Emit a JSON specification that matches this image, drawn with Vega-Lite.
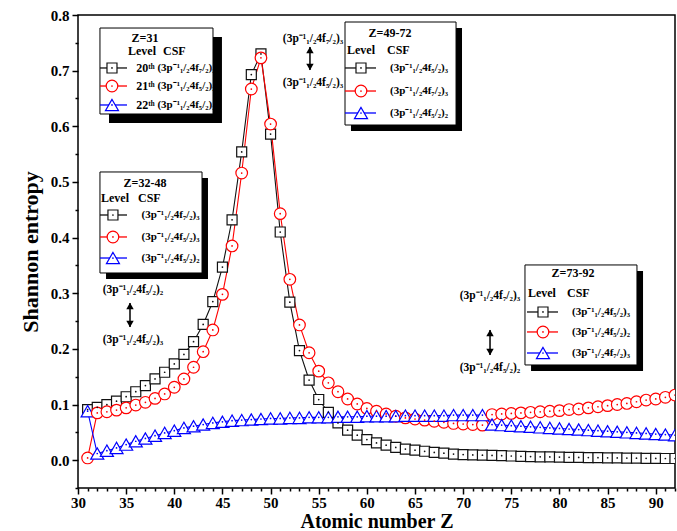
{
  "$schema": "https://vega.github.io/schema/vega-lite/v6.json",
  "width": 597,
  "height": 473,
  "autosize": {"type": "none"},
  "padding": {"left": 78, "top": 15, "right": 2, "bottom": 43},
  "background": "white",
  "config": {
    "view": {"stroke": "black", "strokeWidth": 1.5},
    "font": "Liberation Serif",
    "axis": {"grid": false, "domain": false, "tickColor": "black", "tickWidth": 1.5, "labelColor": "black", "titleColor": "black", "labelFont": "Liberation Serif", "titleFont": "Liberation Serif", "labelFontWeight": "bold", "titleFontWeight": "bold", "labelFontSize": 15, "titleFontSize": 22}
  },
  "datasets": {
    "main": [
      {"Z":31,"A":0.091,"B":0.004,"C":0.088},
      {"Z":32,"A":0.095,"B":0.085,"C":0.012},
      {"Z":33,"A":0.100,"B":0.087,"C":0.017},
      {"Z":34,"A":0.106,"B":0.090,"C":0.022},
      {"Z":35,"A":0.114,"B":0.094,"C":0.028},
      {"Z":36,"A":0.123,"B":0.099,"C":0.034},
      {"Z":37,"A":0.134,"B":0.104,"C":0.039},
      {"Z":38,"A":0.146,"B":0.111,"C":0.044},
      {"Z":39,"A":0.158,"B":0.119,"C":0.049},
      {"Z":40,"A":0.173,"B":0.131,"C":0.053},
      {"Z":41,"A":0.190,"B":0.146,"C":0.058},
      {"Z":42,"A":0.213,"B":0.167,"C":0.061},
      {"Z":43,"A":0.244,"B":0.195,"C":0.064},
      {"Z":44,"A":0.285,"B":0.234,"C":0.067},
      {"Z":45,"A":0.347,"B":0.298,"C":0.069},
      {"Z":46,"A":0.432,"B":0.385,"C":0.071},
      {"Z":47,"A":0.554,"B":0.516,"C":0.072},
      {"Z":48,"A":0.693,"B":0.667,"C":0.073},
      {"Z":49,"A":0.730,"B":0.723,"C":0.074},
      {"Z":50,"A":0.586,"B":0.604,"C":0.075},
      {"Z":51,"A":0.410,"B":0.443,"C":0.075},
      {"Z":52,"A":0.284,"B":0.325,"C":0.076},
      {"Z":53,"A":0.197,"B":0.243,"C":0.076},
      {"Z":54,"A":0.144,"B":0.193,"C":0.077},
      {"Z":55,"A":0.109,"B":0.160,"C":0.077},
      {"Z":56,"A":0.086,"B":0.139,"C":0.077},
      {"Z":57,"A":0.067,"B":0.123,"C":0.078},
      {"Z":58,"A":0.054,"B":0.110,"C":0.078},
      {"Z":59,"A":0.045,"B":0.101,"C":0.078},
      {"Z":60,"A":0.037,"B":0.093,"C":0.079},
      {"Z":61,"A":0.031,"B":0.088,"C":0.079},
      {"Z":62,"A":0.027,"B":0.083,"C":0.079},
      {"Z":63,"A":0.023,"B":0.079,"C":0.079},
      {"Z":64,"A":0.020,"B":0.076,"C":0.080},
      {"Z":65,"A":0.018,"B":0.074,"C":0.080},
      {"Z":66,"A":0.016,"B":0.072,"C":0.080},
      {"Z":67,"A":0.014,"B":0.070,"C":0.080},
      {"Z":68,"A":0.0125,"B":0.068,"C":0.080},
      {"Z":69,"A":0.011,"B":0.066,"C":0.081},
      {"Z":70,"A":0.010,"B":0.065,"C":0.081},
      {"Z":71,"A":0.0095,"B":0.064,"C":0.081},
      {"Z":72,"A":0.009,"B":0.063,"C":0.081},
      {"Z":73,"A":0.0085,"B":0.082,"C":0.064},
      {"Z":74,"A":0.008,"B":0.083,"C":0.063},
      {"Z":75,"A":0.0075,"B":0.084,"C":0.062},
      {"Z":76,"A":0.007,"B":0.085,"C":0.061},
      {"Z":77,"A":0.0065,"B":0.086,"C":0.060},
      {"Z":78,"A":0.006,"B":0.087,"C":0.059},
      {"Z":79,"A":0.0058,"B":0.088,"C":0.058},
      {"Z":80,"A":0.0055,"B":0.089,"C":0.057},
      {"Z":81,"A":0.0052,"B":0.091,"C":0.056},
      {"Z":82,"A":0.005,"B":0.092,"C":0.055},
      {"Z":83,"A":0.0047,"B":0.094,"C":0.054},
      {"Z":84,"A":0.0045,"B":0.096,"C":0.053},
      {"Z":85,"A":0.0042,"B":0.098,"C":0.052},
      {"Z":86,"A":0.004,"B":0.100,"C":0.051},
      {"Z":87,"A":0.0038,"B":0.102,"C":0.050},
      {"Z":88,"A":0.0036,"B":0.105,"C":0.049},
      {"Z":89,"A":0.0034,"B":0.108,"C":0.048},
      {"Z":90,"A":0.0032,"B":0.110,"C":0.047},
      {"Z":91,"A":0.003,"B":0.113,"C":0.046},
      {"Z":92,"A":0.003,"B":0.117,"C":0.045}
    ],
    "shadows": [
      {"x1":33.22,"x2":44.95,"y1":0.7605,"y2":0.6059},
      {"x1":58.35,"x2":69.88,"y1":0.7766,"y2":0.5916},
      {"x1":32.91,"x2":43.50,"y1":0.5071,"y2":0.3256},
      {"x1":77.05,"x2":88.68,"y1":0.3400,"y2":0.1603}
    ],
    "boxes": [
      {"x1":32.28,"x2":44.02,"y1":0.7766,"y2":0.6221},
      {"x1":57.73,"x2":69.26,"y1":0.7874,"y2":0.6023},
      {"x1":32.28,"x2":42.88,"y1":0.5179,"y2":0.3364},
      {"x1":76.42,"x2":88.05,"y1":0.3508,"y2":0.1711}
    ],
    "titles": [
      {"x":36.96,"y":0.7587,"t":"Z=31"},
      {"x":62.40,"y":0.7677,"t":"Z=49-72"},
      {"x":36.96,"y":0.4981,"t":"Z=32-48"},
      {"x":81.41,"y":0.3364,"t":"Z=73-92"}
    ],
    "headers": [
      {"x":35.19,"y":0.7353,"t":"Level"},{"x":38.83,"y":0.7353,"t":"CSF"},
      {"x":57.94,"y":0.7371,"t":"Level"},{"x":62.09,"y":0.7371,"t":"CSF"},
      {"x":32.39,"y":0.4712,"t":"Level"},{"x":36.23,"y":0.4712,"t":"CSF"},
      {"x":76.73,"y":0.3000,"t":"Level"},{"x":80.78,"y":0.3000,"t":"CSF"},
      {"x":36.05,"y":0.7048,"t":"20ᵗʰ"},{"x":36.05,"y":0.6724,"t":"21ᵗʰ"},{"x":36.05,"y":0.6383,"t":"22ᵗʰ"}
    ],
    "csf": [
      {"x":38.25,"y":0.7048,"t":"(3p⁻¹₁/₂4f₇/₂)₃"},
      {"x":38.25,"y":0.6724,"t":"(3p⁻¹₁/₂4f₅/₂)₂"},
      {"x":38.25,"y":0.6383,"t":"(3p⁻¹₁/₂4f₅/₂)₃"},
      {"x":62.40,"y":0.7048,"t":"(3p⁻¹₁/₂4f₅/₂)₃"},
      {"x":62.40,"y":0.6634,"t":"(3p⁻¹₁/₂4f₇/₂)₃"},
      {"x":62.40,"y":0.6239,"t":"(3p⁻¹₁/₂4f₅/₂)₂"},
      {"x":36.60,"y":0.4406,"t":"(3p⁻¹₁/₂4f₇/₂)₃"},
      {"x":36.60,"y":0.4011,"t":"(3p⁻¹₁/₂4f₅/₂)₃"},
      {"x":36.60,"y":0.3633,"t":"(3p⁻¹₁/₂4f₅/₂)₂"},
      {"x":81.30,"y":0.2663,"t":"(3p⁻¹₁/₂4f₅/₂)₃"},
      {"x":81.30,"y":0.2304,"t":"(3p⁻¹₁/₂4f₅/₂)₂"},
      {"x":81.30,"y":0.1926,"t":"(3p⁻¹₁/₂4f₇/₂)₃"}
    ],
    "notes": [
      {"x":35.71,"y":0.3059,"t":"(3p⁻¹₁/₂4f₅/₂)₂"},
      {"x":35.71,"y":0.2160,"t":"(3p⁻¹₁/₂4f₅/₂)₃"},
      {"x":54.41,"y":0.7569,"t":"(3p⁻¹₁/₂4f₇/₂)₃"},
      {"x":54.41,"y":0.6778,"t":"(3p⁻¹₁/₂4f₅/₂)₃"},
      {"x":72.79,"y":0.2951,"t":"(3p⁻¹₁/₂4f₇/₂)₃"},
      {"x":72.79,"y":0.1657,"t":"(3p⁻¹₁/₂4f₅/₂)₂"}
    ],
    "keys": [
      {"x1":32.28,"x2":35.09,"xm":33.53,"y":0.7048,"series":"A"},
      {"x1":32.28,"x2":35.09,"xm":33.53,"y":0.6724,"series":"B"},
      {"x1":32.28,"x2":35.09,"xm":33.53,"y":0.6383,"series":"C"},
      {"x1":57.73,"x2":60.95,"xm":59.39,"y":0.7048,"series":"A"},
      {"x1":57.73,"x2":60.95,"xm":59.39,"y":0.6634,"series":"B"},
      {"x1":57.73,"x2":60.95,"xm":59.39,"y":0.6239,"series":"C"},
      {"x1":32.28,"x2":35.09,"xm":33.63,"y":0.4406,"series":"A"},
      {"x1":32.28,"x2":35.09,"xm":33.63,"y":0.4011,"series":"B"},
      {"x1":32.28,"x2":35.09,"xm":33.63,"y":0.3633,"series":"C"},
      {"x1":76.63,"x2":79.85,"xm":78.29,"y":0.2663,"series":"A"},
      {"x1":76.63,"x2":79.85,"xm":78.29,"y":0.2304,"series":"B"},
      {"x1":76.63,"x2":79.85,"xm":78.29,"y":0.1926,"series":"C"}
    ],
    "arrows": [
      {"x":35.40,"top":0.2825,"bot":0.2394},
      {"x":54.09,"top":0.7425,"bot":0.7012},
      {"x":72.79,"top":0.2340,"bot":0.1891}
    ]
  },
  "layer": [
    {
      "data": {"name": "main"},
      "transform": [{"fold": ["A", "B", "C"], "as": ["series", "S"]}],
      "mark": {"type": "line", "strokeWidth": 1.1, "clip": true},
      "encoding": {
        "x": {"field": "Z", "type": "quantitative", "scale": {"domain": [30, 92], "nice": false, "zero": false},
          "axis": {"orient": "bottom", "values": [30,35,40,45,50,55,60,65,70,75,80,85,90], "title": "Atomic number Z", "titleFontSize": 20, "tickSize": 6, "labelPadding": 1, "titlePadding": 1, "labelFlush": false}},
        "y": {"field": "S", "type": "quantitative", "scale": {"domain": [-0.05, 0.8], "nice": false, "zero": false},
          "axis": {"orient": "left", "values": [0,0.1,0.2,0.3,0.4,0.5,0.6,0.7,0.8], "format": ".1f", "title": "Shannon entropy", "tickSize": 6, "labelPadding": 3, "titlePadding": 8, "labelFlush": false}},
        "stroke": {"field": "series", "type": "nominal", "scale": {"domain": ["A", "B", "C"], "range": ["#111111", "#ff0000", "#0000ff"]}, "legend": null},
        "detail": {"field": "series"}
      }
    },
    {
      "data": {"name": "main"},
      "transform": [{"fold": ["A", "B", "C"], "as": ["series", "S"]}],
      "mark": {"type": "point", "fill": "white", "fillOpacity": 1, "strokeWidth": 1.2, "opacity": 1, "clip": true},
      "encoding": {
        "x": {"field": "Z", "type": "quantitative",
          "axis": {"orient": "bottom", "values": [31,32,33,34,36,37,38,39,41,42,43,44,46,47,48,49,51,52,53,54,56,57,58,59,61,62,63,64,66,67,68,69,71,72,73,74,76,77,78,79,81,82,83,84,86,87,88,89,91,92], "labels": false, "title": null, "tickSize": 3}},
        "y": {"field": "S", "type": "quantitative",
          "axis": {"orient": "left", "values": [-0.05,0.05,0.15,0.25,0.35,0.45,0.55,0.65,0.75], "labels": false, "title": null, "tickSize": 3}},
        "stroke": {"field": "series", "type": "nominal", "legend": null},
        "shape": {"field": "series", "type": "nominal", "scale": {"domain": ["A", "B", "C"], "range": ["square", "circle", "triangle-up"]}, "legend": null},
        "size": {"field": "series", "type": "nominal", "scale": {"domain": ["A", "B", "C"], "range": [100, 170, 160]}, "legend": null}
      }
    },
    {
      "data": {"name": "main"},
      "transform": [{"fold": ["A", "B", "C"], "as": ["series", "S"]}],
      "mark": {"type": "point", "filled": true, "size": 3, "opacity": 1, "clip": true},
      "encoding": {
        "x": {"field": "Z", "type": "quantitative", "axis": null},
        "y": {"field": "S", "type": "quantitative", "axis": null},
        "fill": {"field": "series", "type": "nominal", "scale": {"domain": ["A", "B", "C"], "range": ["#111111", "#ff0000", "#0000ff"]}, "legend": null}
      }
    },
    {
      "data": {"name": "shadows"},
      "mark": {"type": "rect", "fill": "black"},
      "encoding": {
        "x": {"field": "x1", "type": "quantitative", "axis": null}, "x2": {"field": "x2"},
        "y": {"field": "y1", "type": "quantitative", "axis": null}, "y2": {"field": "y2"}
      }
    },
    {
      "data": {"name": "boxes"},
      "mark": {"type": "rect", "fill": "white", "stroke": "black", "strokeWidth": 1},
      "encoding": {
        "x": {"field": "x1", "type": "quantitative", "axis": null}, "x2": {"field": "x2"},
        "y": {"field": "y1", "type": "quantitative", "axis": null}, "y2": {"field": "y2"}
      }
    },
    {
      "data": {"name": "keys"},
      "mark": {"type": "rule", "strokeWidth": 1.3},
      "encoding": {
        "x": {"field": "x1", "type": "quantitative", "axis": null}, "x2": {"field": "x2"},
        "y": {"field": "y", "type": "quantitative", "axis": null},
        "stroke": {"field": "series", "type": "nominal", "legend": null}
      }
    },
    {
      "data": {"name": "keys"},
      "mark": {"type": "point", "fill": "white", "fillOpacity": 1, "strokeWidth": 1.2, "opacity": 1},
      "encoding": {
        "x": {"field": "xm", "type": "quantitative", "axis": null},
        "y": {"field": "y", "type": "quantitative", "axis": null},
        "stroke": {"field": "series", "type": "nominal", "legend": null},
        "shape": {"field": "series", "type": "nominal", "legend": null},
        "size": {"field": "series", "type": "nominal", "legend": null}
      }
    },
    {
      "data": {"name": "keys"},
      "mark": {"type": "point", "filled": true, "size": 3, "opacity": 1},
      "encoding": {
        "x": {"field": "xm", "type": "quantitative", "axis": null},
        "y": {"field": "y", "type": "quantitative", "axis": null},
        "fill": {"field": "series", "type": "nominal", "legend": null}
      }
    },
    {
      "data": {"name": "titles"},
      "mark": {"type": "text", "font": "Liberation Serif", "fontWeight": "bold", "fontSize": 12, "align": "center", "baseline": "middle", "color": "black"},
      "encoding": {
        "x": {"field": "x", "type": "quantitative", "axis": null},
        "y": {"field": "y", "type": "quantitative", "axis": null},
        "text": {"field": "t"}
      }
    },
    {
      "data": {"name": "headers"},
      "mark": {"type": "text", "font": "Liberation Serif", "fontWeight": "bold", "fontSize": 12, "align": "left", "baseline": "middle", "color": "black"},
      "encoding": {
        "x": {"field": "x", "type": "quantitative", "axis": null},
        "y": {"field": "y", "type": "quantitative", "axis": null},
        "text": {"field": "t"}
      }
    },
    {
      "data": {"name": "csf"},
      "mark": {"type": "text", "font": "Liberation Serif", "fontWeight": "bold", "fontSize": 11, "align": "left", "baseline": "middle", "color": "black"},
      "encoding": {
        "x": {"field": "x", "type": "quantitative", "axis": null},
        "y": {"field": "y", "type": "quantitative", "axis": null},
        "text": {"field": "t"}
      }
    },
    {
      "data": {"name": "notes"},
      "mark": {"type": "text", "font": "Liberation Serif", "fontWeight": "bold", "fontSize": 11.5, "align": "center", "baseline": "middle", "color": "black"},
      "encoding": {
        "x": {"field": "x", "type": "quantitative", "axis": null},
        "y": {"field": "y", "type": "quantitative", "axis": null},
        "text": {"field": "t"}
      }
    },
    {
      "data": {"name": "arrows"},
      "mark": {"type": "rule", "strokeWidth": 1.5, "color": "black"},
      "encoding": {
        "x": {"field": "x", "type": "quantitative", "axis": null},
        "y": {"field": "top", "type": "quantitative", "axis": null}, "y2": {"field": "bot"}
      }
    },
    {
      "data": {"name": "arrows"},
      "mark": {"type": "point", "shape": "triangle-up", "filled": true, "size": 55, "color": "black", "opacity": 1, "yOffset": 3},
      "encoding": {
        "x": {"field": "x", "type": "quantitative", "axis": null},
        "y": {"field": "top", "type": "quantitative", "axis": null}
      }
    },
    {
      "data": {"name": "arrows"},
      "mark": {"type": "point", "shape": "triangle-down", "filled": true, "size": 55, "color": "black", "opacity": 1, "yOffset": -3},
      "encoding": {
        "x": {"field": "x", "type": "quantitative", "axis": null},
        "y": {"field": "bot", "type": "quantitative", "axis": null}
      }
    }
  ],
  "resolve": {"axis": {"x": "independent", "y": "independent"}}
}
